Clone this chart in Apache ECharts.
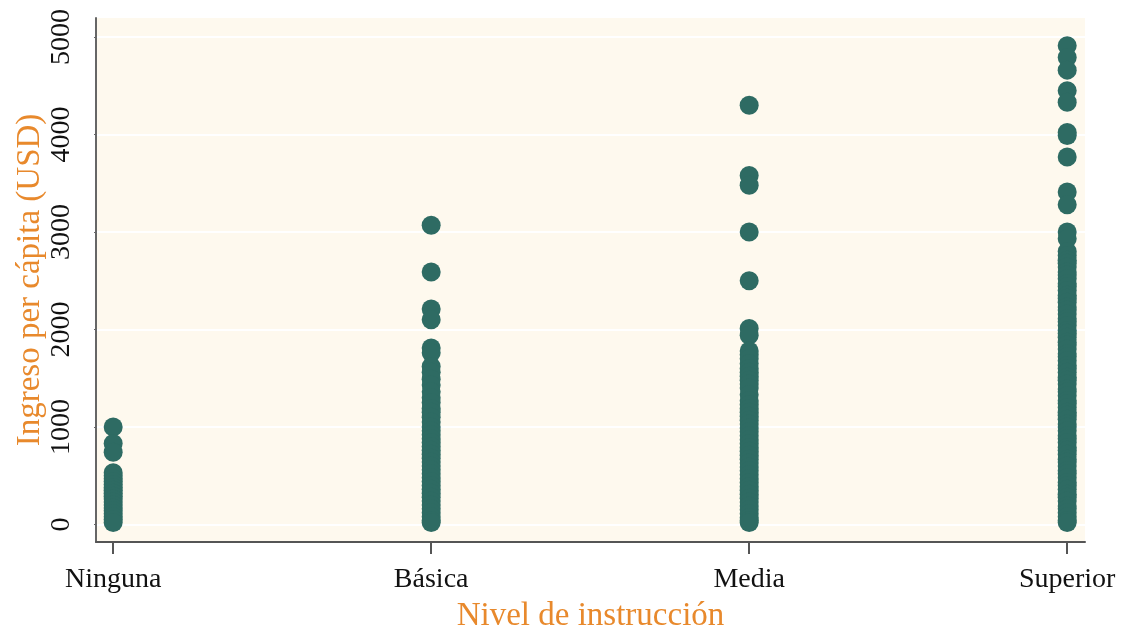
<!DOCTYPE html>
<html>
<head>
<meta charset="utf-8">
<script src="https://cdn.jsdelivr.net/npm/echarts@6/dist/echarts.min.js"></script>
<style>
  html, body { margin: 0; padding: 0; background: #fff; }
  #chart { width: 1123px; height: 630px; }
</style>
</head>
<body>
<div id="chart"></div>
<script>
// niveles de instruccion (posicion 0..3 en el eje x)
var categorias = ['Ninguna', 'Básica', 'Media', 'Superior'];
var yTicks = [0, 1000, 2000, 3000, 4000, 5000];

// ingreso per capita (USD), por nivel
var ninguna = [1000, 830, 740, 530, 500, 470, 440, 410, 380, 350, 320, 290, 260, 230, 200, 170, 140, 110, 80, 50, 20];
var basica = [3070, 2590, 2210, 2100, 1810, 1760, 1620, 1560, 1490, 1430, 1360, 1300, 1250, 1190, 1150, 1100,
    1050, 1000, 960, 920, 880, 840, 800, 760, 720, 680, 640, 600, 560, 520, 480, 440, 400, 360, 320,
    280, 240, 200, 160, 120, 80, 40, 20];
var media = [4300, 3580, 3480, 3000, 2500, 2010, 1940, 1780, 1740, 1700, 1650, 1600, 1560, 1520, 1480, 1440,
    1400, 1330, 1270, 1230, 1190, 1150, 1110, 1070, 1030, 990, 950, 910, 870, 830, 790, 750, 710,
    670, 630, 590, 550, 510, 470, 430, 390, 350, 310, 270, 230, 190, 150, 110, 70, 40, 20];
var superior = [4910, 4790, 4660, 4450, 4330, 4020, 3990, 3770, 3410, 3280, 3000, 2930, 2800, 2760, 2710,
    2680, 2640, 2590, 2560, 2520, 2470, 2440, 2400, 2350, 2320, 2280, 2230, 2200, 2160, 2110, 2080,
    2040, 1990, 1960, 1920, 1870, 1840, 1800, 1750, 1720, 1680, 1630, 1600, 1560, 1510, 1480, 1440,
    1390, 1360, 1320, 1270, 1240, 1200, 1150, 1120, 1080, 1030, 1000, 960, 910, 880, 840, 790, 760,
    720, 670, 640, 600, 550, 520, 480, 430, 400, 360, 310, 280, 240, 190, 160, 120, 80, 40, 20];

var grupos = [ninguna, basica, media, superior];
var puntos = [];
for (var i = 0; i < grupos.length; i++) {
    for (var j = 0; j < grupos[i].length; j++) {
        puntos.push([i, grupos[i][j]]);
    }
}

var serif = '"Liberation Serif", "DejaVu Serif", serif';
var chart = echarts.init(document.getElementById('chart'), null, { renderer: 'canvas' });
var option = {
    animation: false,
    backgroundColor: '#ffffff',
    grid: {
        left: 96,
        right: 38,
        top: 18,
        bottom: 88,
        outerBoundsMode: 'none',
        containLabel: false,
        show: true,
        backgroundColor: '#fef9ee',
        borderWidth: 0
    },
    xAxis: {
        type: 'value',
        min: -0.054,
        max: 3.056,
        name: 'Nivel de instrucción',
        nameLocation: 'middle',
        nameGap: 58,
        nameMoveOverlap: false,
        nameTextStyle: { color: '#e8892c', fontFamily: serif, fontSize: 33 },
        axisLine: { show: true, onZero: false, lineStyle: { color: '#555', width: 2 } },
        axisTick: { show: true, length: 12, customValues: [0, 1, 2, 3], lineStyle: { color: '#555', width: 2 } },
        axisLabel: {
            customValues: [0, 1, 2, 3],
            margin: 24,
            color: '#111',
            fontFamily: serif,
            fontSize: 28,
            formatter: function (v) { return categorias[Math.round(v)]; }
        },
        splitLine: { show: false }
    },
    yAxis: {
        type: 'value',
        min: -180,
        max: 5195,
        name: 'Ingreso per cápita (USD)',
        nameLocation: 'middle',
        nameGap: 49,
        nameMoveOverlap: false,
        nameTextStyle: { color: '#e8892c', fontFamily: serif, fontSize: 33 },
        axisLine: { show: true, onZero: false, lineStyle: { color: '#666', width: 2 } },
        axisTick: { show: true, length: 2, customValues: yTicks, lineStyle: { color: '#666' } },
        axisLabel: {
            customValues: yTicks,
            rotate: 90,
            margin: 20,
            color: '#111',
            fontFamily: serif,
            fontSize: 28,
            formatter: function (v) { return String(v); }
        },
        splitLine: { show: true, lineStyle: { color: '#ffffff', width: 2 } }
    },
    series: [{
        type: 'scatter',
        data: puntos,
        symbol: 'circle',
        symbolSize: 19,
        itemStyle: { color: '#2e6b63', opacity: 1 }
    }]
};
chart.setOption(option);
</script>
</body>
</html>
